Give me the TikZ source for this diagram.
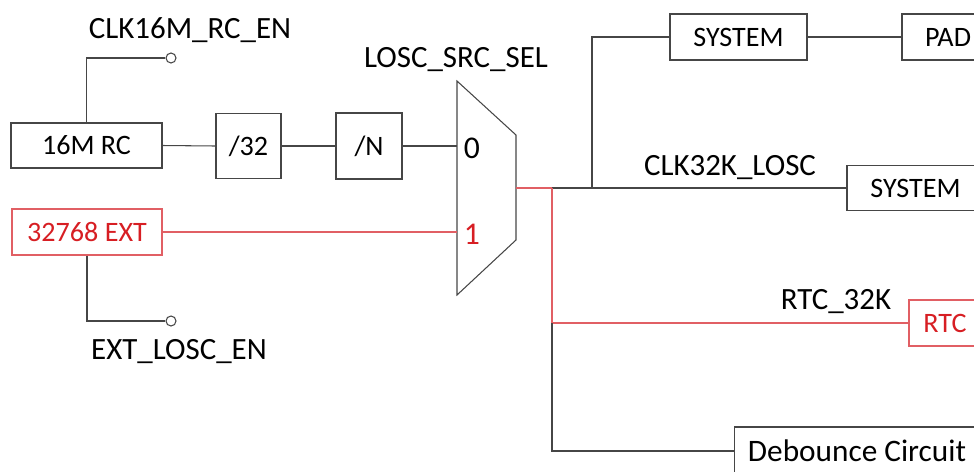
\documentclass[tikz,border=0pt]{standalone}
\usepackage{fontspec}
\setmainfont{Carlito}
\definecolor{wiregray}{RGB}{70,70,70}
\definecolor{sigred}{RGB}{215,30,35}
\definecolor{wirered}{RGB}{225,95,100}
\begin{document}
\begin{tikzpicture}[x=0.02cm,y=-0.02cm,
    wire/.style={draw=wiregray,line width=0.6pt},
    redwire/.style={draw=wirered,line width=0.6pt},
    blk/.style={draw=wiregray,line width=0.6pt,inner sep=0pt,font=\fontsize{16}{18}\selectfont},
    redblk/.style={blk,draw=wirered,text=sigred},
    pin/.style={circle,draw=wiregray,fill=white,line width=0.6pt,inner sep=0pt,minimum size=0.2cm},
    lbl/.style={inner sep=0pt,font=\fontsize{17.6}{20}\selectfont}]
        \useasboundingbox (0,0) rectangle (974,471);
        \clip (0,0) rectangle (974,471);
        \node[blk,minimum width=3.02cm,minimum height=0.9cm] (rc16) at (86.5,145.5) {16M RC};
        \node[redblk,minimum width=3.0cm,minimum height=0.92cm] (ext) at (87,232) {32768 EXT};
        \node[blk,minimum width=1.3cm,minimum height=1.3cm] (div32) at (248.5,146) {/32};
        \node[blk,minimum width=1.32cm,minimum height=1.32cm] (divn) at (369,146) {/N};
        \node[pin] (en16) at (171,58) {};
        \node[pin] (enext) at (171,321) {};
        \node[lbl] (en16lbl) at (190,30) {CLK16M\_RC\_EN};
        \node[lbl] (enextlbl) at (179,352) {EXT\_LOSC\_EN};
        \node[lbl] (sellbl) at (456,60) {LOSC\_SRC\_SEL};
        \draw[wire] (457,81) -- (516,135) -- (516,240) -- (457,295) -- cycle;
        \coordinate (mux0) at (457,146);
        \coordinate (mux1) at (457,232);
        \coordinate (muxout) at (516,188);
        \node[lbl,font=\fontsize{18}{20}\selectfont] (in0) at (472,148) {0};
        \node[lbl,font=\fontsize{18}{20}\selectfont,text=sigred] (in1) at (472,234) {1};
        \node[blk,minimum width=2.74cm,minimum height=0.92cm] (sys1) at (738.5,37) {SYSTEM};
        \node[blk,minimum width=1.84cm,minimum height=0.92cm] (pad) at (948,37) {PAD};
        \node[blk,minimum width=2.74cm,minimum height=0.9cm] (sys2) at (915.5,188) {SYSTEM};
        \node[redblk,minimum width=1.44cm,minimum height=0.92cm] (rtc) at (945,323) {RTC};
        \node[blk,minimum width=4.92cm,minimum height=0.96cm,font=\fontsize{17.8}{20}\selectfont] (deb) at (857,451) {Debounce Circuit};
        \node[lbl] (losclbl) at (730,168) {CLK32K\_LOSC};
        \node[lbl] (rtclbl) at (836,302) {RTC\_32K};
        \coordinate (j1) at (552,188);
        \coordinate (j2) at (592,188);
        \coordinate (j3) at (552,323);
        \draw[wire] (rc16.north) |- (en16.west);
        \draw[wire] (ext.south) |- (enext.west);
        \draw[wire] (rc16.east) -- (div32.west);
        \draw[wire] (div32.east) -- (divn.west);
        \draw[wire] (divn.east) -- (mux0);
        \draw[redwire] (ext.east) -- (mux1);
        \draw[redwire] (muxout) -- (j1);
        \draw[wire] (j1) -- (j2) -- (sys2.west);
        \draw[wire] (j2) |- (sys1.west);
        \draw[wire] (sys1.east) -- (pad.west);
        \draw[redwire] (j1) -- (j3) -- (rtc.west);
        \draw[wire] (j3) |- (deb.west);
      \end{tikzpicture}
\end{document}
